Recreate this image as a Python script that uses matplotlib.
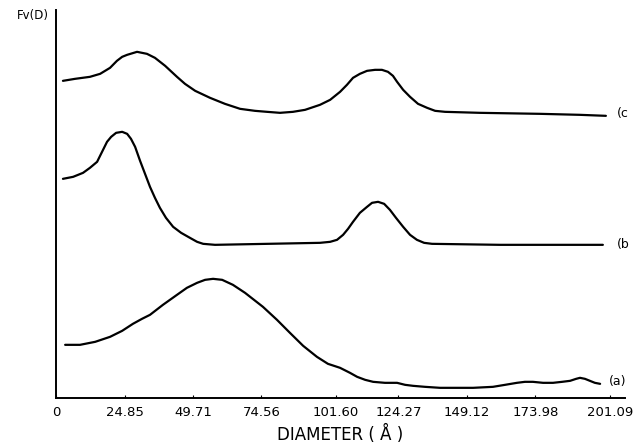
import matplotlib.pyplot as plt

# diameter (angstrom) vs Fv(D), arbitrary units, three offset curves
diam_c = [2.5, 6.9, 12.3, 16.0, 19.6, 22.1, 24.0, 25.8, 29.4, 33.0, 35.9, 39.6, 43.9, 46.8,
          50.5, 55.9, 61.3, 66.8, 72.2, 76.6, 81.3, 86.0, 90.4, 95.8, 99.5, 103.1, 105.6,
          107.8, 110.3, 112.9, 115.8, 118.3, 120.5, 122.3, 123.8, 126.0, 128.5, 131.4,
          134.7, 137.6, 141.2, 153.9, 175.7, 190.2, 199.6]
fv_c = [3.17, 3.19, 3.21, 3.24, 3.30, 3.37, 3.41, 3.43, 3.46, 3.44, 3.40, 3.32, 3.21, 3.14,
        3.07, 3.00, 2.94, 2.89, 2.87, 2.86, 2.85, 2.86, 2.88, 2.93, 2.98, 3.06, 3.13,
        3.20, 3.24, 3.27, 3.28, 3.28, 3.26, 3.22, 3.16, 3.08, 3.01, 2.94,
        2.90, 2.87, 2.86, 2.85, 2.84, 2.83, 2.82]

diam_b = [2.5, 6.2, 9.8, 12.3, 14.9, 16.7, 18.5, 20.0, 21.8, 24.0, 25.8, 27.2, 28.7, 30.5,
          32.3, 34.1, 35.9, 37.7, 39.9, 42.5, 45.4, 48.6, 51.2, 53.4, 57.7, 95.8, 99.5,
          102.0, 104.2, 106.0, 107.8, 110.3, 112.9, 114.7, 116.9, 119.1, 121.2, 123.4,
          126.0, 128.5, 131.0, 133.6, 136.5, 161.2, 198.5]
fv_b = [2.19, 2.21, 2.25, 2.30, 2.36, 2.46, 2.56, 2.61, 2.65, 2.66, 2.64, 2.59, 2.51, 2.37,
        2.24, 2.11, 2.00, 1.90, 1.80, 1.71, 1.65, 1.60, 1.56, 1.54, 1.53, 1.55, 1.56,
        1.58, 1.63, 1.69, 1.76, 1.85, 1.91, 1.95, 1.96, 1.94, 1.88, 1.80,
        1.71, 1.63, 1.58, 1.55, 1.54, 1.53, 1.53]

diam_a = [3.3, 8.7, 14.2, 19.6, 24.0, 27.9, 31.2, 34.1, 38.8, 43.9, 47.5, 51.2, 54.1, 57.0,
          60.3, 64.2, 68.6, 75.1, 80.2, 84.9, 89.7, 94.7, 98.7, 103.1, 106.7, 109.3, 112.2,
          115.1, 119.4, 123.8, 126.7, 129.6, 133.9, 139.4, 151.4, 158.6, 163.0, 167.3,
          170.2, 173.1, 176.8, 180.4, 183.7, 186.6, 188.8, 190.2, 192.0, 193.8, 195.6, 197.5]
fv_a = [0.53, 0.53, 0.56, 0.61, 0.67, 0.74, 0.79, 0.83, 0.93, 1.03, 1.10, 1.15, 1.18, 1.19,
        1.18, 1.13, 1.05, 0.91, 0.78, 0.65, 0.52, 0.41, 0.34, 0.30, 0.25, 0.21, 0.18,
        0.16, 0.15, 0.15, 0.13, 0.12, 0.11, 0.10, 0.10, 0.11, 0.13, 0.15,
        0.16, 0.16, 0.15, 0.15, 0.16, 0.17, 0.19, 0.20, 0.19, 0.17, 0.15, 0.14]

tick_vals = [0, 24.85, 49.71, 74.56, 101.60, 124.27, 149.12, 173.98, 201.09]
tick_labels = ["0", "24.85", "49.71", "74.56", "101.60", "124.27", "149.12", "173.98", "201.09"]

curve_labels = ["(c", "(b", "(a)"]

fig = plt.figure(figsize=(6.37, 4.47), dpi=100)
ax = fig.add_axes([0.088, 0.11, 0.893, 0.868])

for xs, ys in [(diam_c, fv_c), (diam_b, fv_b), (diam_a, fv_a)]:
    ax.plot(xs, ys, color="black", lw=1.6, solid_joinstyle="round", solid_capstyle="round")

# curve tags at the right end
ax.text(203.6, 2.84, curve_labels[0], fontsize=9, va="center", ha="left", clip_on=False)
ax.text(203.6, 1.53, curve_labels[1], fontsize=9, va="center", ha="left", clip_on=False)
ax.text(200.8, 0.16, curve_labels[2], fontsize=9, va="center", ha="left", clip_on=False)

ax.set_xlim(0, 206.5)
ax.set_ylim(0, 3.88)

ax.spines["top"].set_visible(False)
ax.spines["right"].set_visible(False)
ax.spines["left"].set_linewidth(1.4)
ax.spines["bottom"].set_linewidth(1.4)

ax.set_xticks(tick_vals)
ax.set_xticklabels(tick_labels, fontsize=9.5)
ax.tick_params(axis="x", direction="in", length=2, pad=6)
ax.set_yticks([])

ax.set_xlabel("DIAMETER ( Å )", fontsize=12, labelpad=4)
fig.text(0.027, 0.966, "Fv(D)", fontsize=8.5, va="center", ha="left")

plt.savefig("out.png", dpi=100)
plt.close()
